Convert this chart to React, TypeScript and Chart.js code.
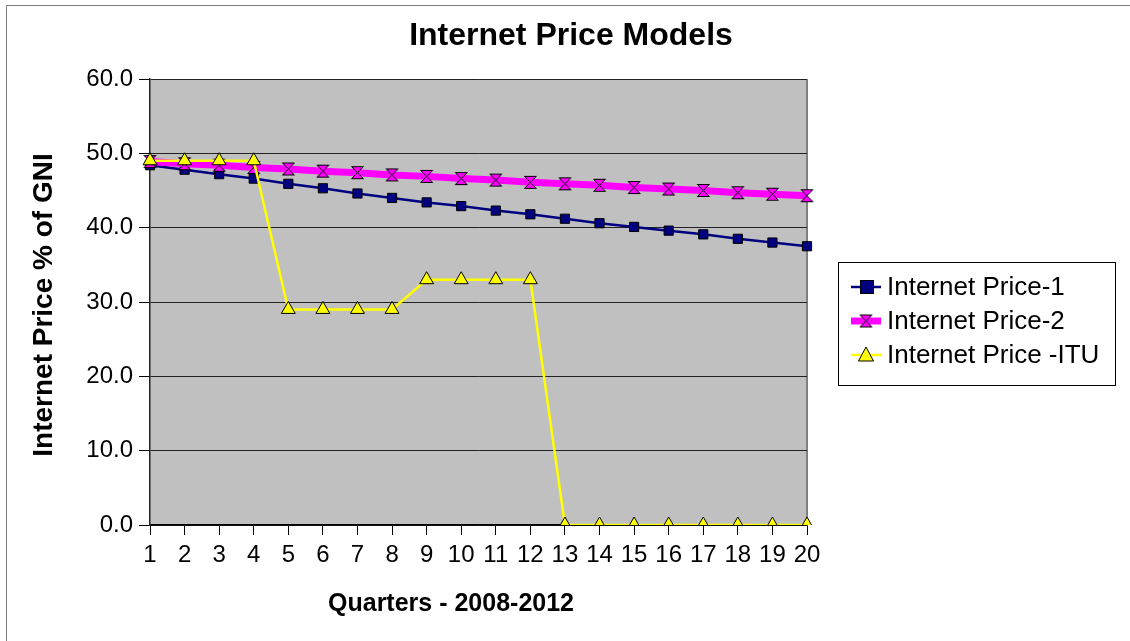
import React, { useEffect, useRef } from "react";
import { Chart, registerables } from "chart.js";

Chart.register(...registerables);

const quarters: string[] = ["1","2","3","4","5","6","7","8","9","10","11","12","13","14","15","16","17","18","19","20"];
const price1: number[] = [48.4, 47.8, 47.2, 46.6, 45.9, 45.3, 44.6, 44.0, 43.4, 42.9, 42.3, 41.8, 41.2, 40.6, 40.1, 39.6, 39.1, 38.5, 38.0, 37.5];
const price2: number[] = [48.9, 48.6, 48.4, 48.1, 47.9, 47.6, 47.4, 47.1, 46.9, 46.6, 46.4, 46.1, 45.9, 45.7, 45.4, 45.2, 45.0, 44.7, 44.5, 44.3];
const priceITU: number[] = [49, 49, 49, 49, 29, 29, 29, 29, 33, 33, 33, 33, 0, 0, 0, 0, 0, 0, 0, 0];
const seriesNames: string[] = ["Internet Price-1", "Internet Price-2", "Internet Price -ITU"];
const yTicks: number[] = [0, 10, 20, 30, 40, 50, 60];

const FONT = "'Liberation Sans', Arial, sans-serif";

function makeHourglass(): HTMLCanvasElement {
  const c = document.createElement("canvas");
  c.width = 15;
  c.height = 15;
  const g = c.getContext("2d")!;
  g.beginPath();
  g.moveTo(1.5, 1.5);
  g.lineTo(13.5, 1.5);
  g.lineTo(1.5, 13.5);
  g.lineTo(13.5, 13.5);
  g.closePath();
  g.fillStyle = "#FF00FF";
  g.fill();
  g.strokeStyle = "#000";
  g.lineWidth = 1;
  g.stroke();
  return c;
}

export default function App() {
  const ref = useRef<HTMLCanvasElement>(null);
  useEffect(() => {
    if (!ref.current) return;
    const hourglass = makeHourglass();

    const decor = {
      id: "decor",
      beforeDraw(chart: any) {
        const { ctx, chartArea: a } = chart;
        ctx.save();
        ctx.fillStyle = "#fff";
        ctx.fillRect(0, 0, chart.width, chart.height);
        ctx.strokeStyle = "#808080";
        ctx.lineWidth = 1;
        ctx.strokeRect(6.5, 5.5, 1200, 700);
        ctx.fillStyle = "#C0C0C0";
        ctx.fillRect(a.left, a.top, a.right - a.left, a.bottom - a.top);
        ctx.strokeStyle = "#808080";
        ctx.lineWidth = 2;
        ctx.beginPath();
        ctx.moveTo(a.right, a.top);
        ctx.lineTo(a.right, a.bottom);
        ctx.stroke();
        ctx.restore();
      },
      afterDraw(chart: any) {
        const { ctx } = chart;
        ctx.save();
        ctx.fillStyle = "#000";
        ctx.textAlign = "center";
        ctx.textBaseline = "middle";
        ctx.font = `bold 32px ${FONT}`;
        ctx.fillText("Internet Price Models", 571, 36);
        ctx.font = `bold 25px ${FONT}`;
        ctx.fillText("Quarters - 2008-2012", 451, 604);
        ctx.save();
        ctx.translate(44, 305);
        ctx.rotate(-Math.PI / 2);
        ctx.font = `bold 28px ${FONT}`;
        ctx.fillText("Internet Price % of GNI", 0, 0);
        ctx.restore();

        ctx.strokeStyle = "#000";
        ctx.lineWidth = 1;
        ctx.strokeRect(838.5, 262.5, 277, 123);
        const rows = [287, 321, 355];
        ctx.font = `26px ${FONT}`;
        ctx.textAlign = "left";
        const ds = chart.data.datasets;
        for (let i = 0; i < 3; i++) {
          const y = rows[i];
          const d = ds[i];
          ctx.strokeStyle = d.borderColor;
          ctx.lineWidth = d.borderWidth;
          ctx.beginPath();
          ctx.moveTo(851, y);
          ctx.lineTo(881, y);
          ctx.stroke();
          ctx.lineWidth = 1;
          ctx.strokeStyle = "#000";
          if (i === 0) {
            ctx.fillStyle = "#000080";
            ctx.fillRect(860.5, y - 6.5, 13, 13);
            ctx.strokeRect(860.5, y - 6.5, 13, 13);
          } else if (i === 1) {
            ctx.drawImage(hourglass, 866 - 7.5, y - 7.5);
          } else {
            ctx.fillStyle = "#FFFF00";
            ctx.beginPath();
            ctx.moveTo(866, y - 8);
            ctx.lineTo(873.5, y + 6);
            ctx.lineTo(858.5, y + 6);
            ctx.closePath();
            ctx.fill();
            ctx.stroke();
          }
          ctx.fillStyle = "#000";
          ctx.fillText(seriesNames[i], 887, y + 1);
        }
        ctx.restore();
      },
    };

    const chart = new Chart(ref.current, {
      type: "line",
      data: {
        labels: quarters,
        datasets: [
          {
            label: seriesNames[0],
            data: price1,
            borderColor: "#000080",
            backgroundColor: "#000080",
            borderWidth: 2.5,
            pointStyle: "rect",
            pointRadius: 6.5,
            pointBorderColor: "#000",
            pointBorderWidth: 1,
            pointBackgroundColor: "#000080",
            order: 3,
          },
          {
            label: seriesNames[1],
            data: price2,
            borderColor: "#FF00FF",
            backgroundColor: "#FF00FF",
            borderWidth: 7,
            pointStyle: hourglass as any,
            pointRadius: 7,
            order: 2,
          },
          {
            label: seriesNames[2],
            data: priceITU,
            borderColor: "#FFFF00",
            backgroundColor: "#FFFF00",
            borderWidth: 2.5,
            pointStyle: "triangle",
            pointRadius: 8,
            pointBorderColor: "#000",
            pointBorderWidth: 1,
            pointBackgroundColor: "#FFFF00",
            order: 1,
          },
        ],
      },
      options: {
        animation: false,
        responsive: false,
        devicePixelRatio: 1,
        layout: { padding: { top: 79, right: 323, bottom: 0, left: 0 } },
        plugins: {
          legend: { display: false },
          title: { display: false },
          tooltip: { enabled: false },
        },
        scales: {
          x: {
            type: "category",
            offset: false,
            grid: {
              display: true,
              drawOnChartArea: false,
              drawTicks: true,
              tickLength: 10,
              color: "#000",
              lineWidth: 1,
            },
            border: { display: true, color: "#000", width: 1.5 },
            ticks: {
              color: "#000",
              font: { family: FONT, size: 24 },
              padding: 6,
              maxRotation: 0,
              autoSkip: false,
            },
            afterFit(scale: any) {
              scale.height = 116;
            },
          },
          y: {
            min: 0,
            max: 60,
            afterBuildTicks(scale: any) {
              scale.ticks = yTicks.map((v) => ({ value: v }));
            },
            grid: {
              color: "#222",
              lineWidth: 1,
              drawTicks: true,
              tickLength: 11,
              tickColor: "#000",
            },
            border: { display: true, color: "#222", width: 1.5 },
            ticks: {
              color: "#000",
              font: { family: FONT, size: 24 },
              padding: 6,
              callback: (v: any) => Number(v).toFixed(1),
            },
            afterFit(scale: any) {
              scale.width = 150;
            },
          },
        },
      },
      plugins: [decor],
    });
    return () => chart.destroy();
  }, []);

  return (
    <div style={{ position: "absolute", left: 0, top: 0, width: 1130, height: 641, overflow: "hidden" }}>
      <canvas ref={ref} width={1130} height={641} style={{ width: 1130, height: 641 }} />
    </div>
  );
}
